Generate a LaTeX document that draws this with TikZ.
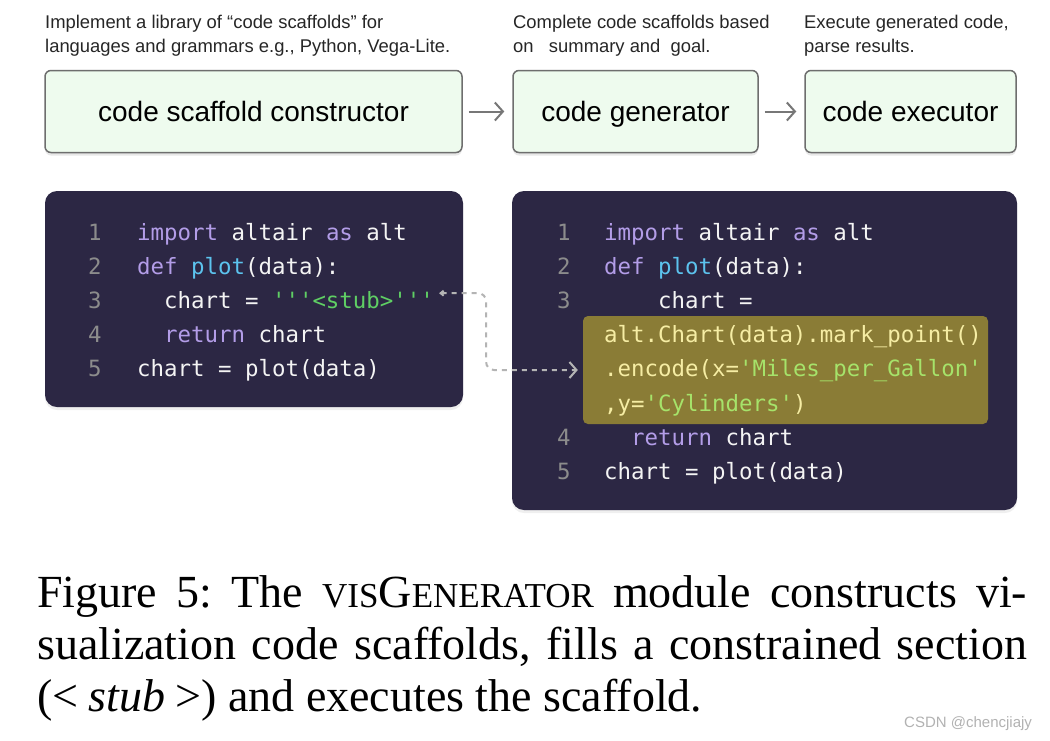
\documentclass[tikz,border=0pt]{standalone}
\usepackage{fontspec}
\setmainfont{Liberation Serif}
\setsansfont{Liberation Sans}
\setmonofont{DejaVu Sans Mono}
\usetikzlibrary{arrows.meta,shadows}

\definecolor{boxfill}{HTML}{EEFBEE}
\definecolor{boxline}{HTML}{6E6E6E}
\definecolor{panelbg}{HTML}{2C2744}
\definecolor{lineno}{HTML}{8C8C8C}
\definecolor{codetxt}{HTML}{F4F4F4}
\definecolor{kwcol}{HTML}{B39DE8}
\definecolor{fncol}{HTML}{5CC3EE}
\definecolor{strcol}{HTML}{5FCF64}
\definecolor{hlfill}{HTML}{8A7C36}
\definecolor{hltxt}{HTML}{F6EDA4}
\definecolor{hlstr}{HTML}{A6E36A}
\definecolor{arrgray}{HTML}{777777}
\definecolor{dashgray}{HTML}{B4B4B4}

\newcommand{\descfont}{\sffamily\fontsize{18.4}{24}\selectfont}
\newcommand{\boxfont}{\sffamily\fontsize{28}{30}\selectfont}
\newcommand{\codefont}{\ttfamily\fontsize{22.4}{26}\selectfont}
\newcommand{\capfont}{\rmfamily\fontsize{46}{52}\selectfont\frenchspacing}
\newcommand{\fakesc}[1]{{\fontsize{35}{35}\selectfont #1}}
\newcommand{\kwd}[1]{\textcolor{kwcol}{#1}}
\newcommand{\fnc}[1]{\textcolor{fncol}{#1}}
\newcommand{\strg}[1]{\textcolor{strcol}{#1}}
\newcommand{\hstr}[1]{\textcolor{hlstr}{#1}}

\begin{document}
\begin{tikzpicture}[x=1pt, y=-1pt,
  every node/.style={inner sep=0pt},
  desc/.style={anchor=north west, align=left, font=\descfont, text=black!85},
  stage/.style={draw=boxline, line width=1.5pt, fill=boxfill, rounded corners=6pt,
    minimum height=82pt, font=\boxfont, text height=23pt, text depth=4pt,
    drop shadow={shadow xshift=0pt, shadow yshift=-3pt, opacity=0.18}},
  flow/.style={draw=arrgray, line width=2pt, -{Straight Barb[length=8pt,width=18pt]},
    shorten <=6pt, shorten >=8pt},
  panel/.style={fill=panelbg, rounded corners=12pt,
    drop shadow={shadow xshift=0pt, shadow yshift=-3pt, opacity=0.12}},
  hilite/.style={fill=hlfill, rounded corners=5pt},
  lnum/.style={anchor=base west, font=\codefont, text=lineno},
  codeln/.style={anchor=base west, font=\codefont, text=codetxt},
  link/.style={draw=dashgray, line width=2pt, dash pattern=on 5pt off 5pt, rounded corners=8pt,
    {Straight Barb[length=3pt,width=5pt]}-{Straight Barb[length=7pt,width=16pt]}, shorten >=5pt}]

\fill[white] (0,0) rectangle (1050,740);
\useasboundingbox (0,0) rectangle (1050,740);

% stage descriptions
\node[desc] (descA) at (45,15) {Implement a library of “code scaffolds” for\\languages and grammars e.g., Python, Vega-Lite.};
\node[desc] (descB) at (513,15) {Complete code scaffolds based\\on\ \ \ summary and\ \ goal.};
\node[desc] (descC) at (804,15) {Execute generated code,\\parse results.};

% pipeline
\node[stage, minimum width=417pt] (constructor) at (253.5,111.5) {code scaffold constructor};
\node[stage, minimum width=245pt] (generator) at (635.5,111.5) {code generator};
\node[stage, minimum width=211pt] (executor) at (910.5,111.5) {code executor};
\draw[flow] (constructor) -- (generator);
\draw[flow] (generator) -- (executor);

% scaffold
\node[panel, minimum width=418pt, minimum height=216pt] (panelA) at (254,299) {};
\node[lnum] (nA1) at (88,240) {1};
\node[lnum] (nA2) at (88,274.2) {2};
\node[lnum] (nA3) at (88,308.4) {3};
\node[lnum] (nA4) at (88,342.6) {4};
\node[lnum] (nA5) at (88,376.8) {5};
\node[codeln] (cA1) at (137,240) {\kwd{import} altair \kwd{as} alt};
\node[codeln] (cA2) at (137,274.2) {\kwd{def} \fnc{plot}(data):};
\node[codeln] (cA3) at (137,308.4) {\ \ chart = \strg{'''<stub>'''}};
\node[codeln] (cA4) at (137,342.6) {\ \ \kwd{return} chart};
\node[codeln] (cA5) at (137,376.8) {chart = plot(data)};

% completed scaffold
\node[panel, minimum width=505pt, minimum height=319pt] (panelB) at (764.5,350.5) {};
\node[hilite, minimum width=405pt, minimum height=108pt] (hl) at (785.5,370) {};
\node[lnum] (nB1) at (557,240) {1};
\node[lnum] (nB2) at (557,274.2) {2};
\node[lnum] (nB3) at (557,308.4) {3};
\node[lnum] (nB4) at (557,445.2) {4};
\node[lnum] (nB5) at (557,479.4) {5};
\node[codeln] (cB1) at (604,240) {\kwd{import} altair \kwd{as} alt};
\node[codeln] (cB2) at (604,274.2) {\kwd{def} \fnc{plot}(data):};
\node[codeln] (cB3) at (604,308.4) {\ \ \ \ chart =};
\node[codeln, text=hltxt] (hB1) at (604,342.6) {alt.Chart(data).mark\_point()};
\node[codeln, text=hltxt] (hB2) at (604,376.8) {.encode(x=\hstr{'Miles\_per\_Gallon'}};
\node[codeln, text=hltxt] (hB3) at (604,411) {,y=\hstr{'Cylinders'})};
\node[codeln] (cB4) at (604,445.2) {\ \ \kwd{return} chart};
\node[codeln] (cB5) at (604,479.4) {chart = plot(data)};

\coordinate (stubtip) at ([xshift=5pt,yshift=-2pt]cA3.north east);
\draw[link] (stubtip) -- ++(47,0) |- (hl.west);

% caption
\node[anchor=north west, text width=990pt, align=justify, font=\capfont] (caption) at (37,575)
  {Figure 5: The \fakesc{VIS}G\fakesc{ENERATOR} module constructs vi-\linebreak
   sualization code scaffolds, fills a constrained section\linebreak
   (<\hspace{0.22em}\textit{stub}\hspace{0.22em}>) and executes the scaffold.};
\node[anchor=base west, font=\sffamily\fontsize{15}{15}\selectfont, text=black!30] (wmark) at (904,727) {CSDN @chencjiajy};
\end{tikzpicture}
\end{document}
